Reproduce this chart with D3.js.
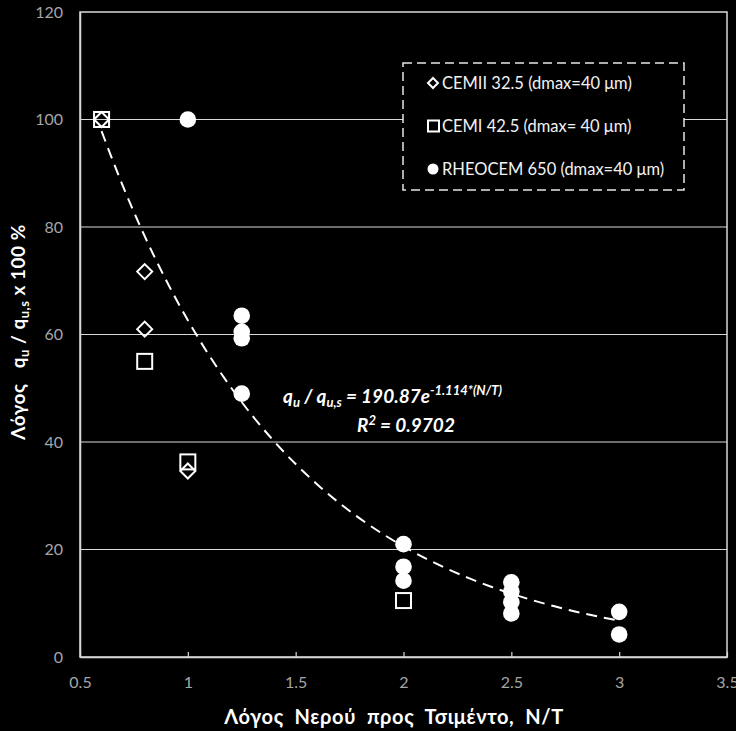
<!DOCTYPE html>
<html><head><meta charset="utf-8">
<script src="https://cdn.jsdelivr.net/npm/d3@7"></script>
<style>
html,body{margin:0;padding:0;background:#000;}
svg{display:block;}
text{font-family:Lato,"Open Sans",sans-serif;}
.pre{white-space:pre;}
</style></head>
<body>
<svg id="chart" width="736" height="731"></svg>
<script>
// ---- data ----
const xTicks = [0.5, 1, 1.5, 2, 2.5, 3, 3.5];
const xTickLabels = ["0.5", "1", "1.5", "2", "2.5", "3", "3.5"];
const yTicks = [0, 20, 40, 60, 80, 100, 120];
const seriesNames = ["CEMII 32.5 (dmax=40 μm)", "CEMI 42.5 (dmax= 40 μm)", "RHEOCEM 650 (dmax=40 μm)"];
const cemiiX = [0.6, 0.8, 0.8, 1.0];
const cemiiY = [100, 71.7, 61, 34.6];
const cemiX = [0.6, 0.8, 1.0, 2.0];
const cemiY = [100, 55, 36.3, 10.5];
const rheoX = [1.0, 1.25, 1.25, 1.25, 1.25, 2.0, 2.0, 2.0, 2.5, 2.5, 2.5, 2.5, 3.0, 3.0];
const rheoY = [100, 63.5, 60.5, 59.3, 49, 21, 16.8, 14.2, 13.9, 12.2, 10.2, 8.1, 8.4, 4.2];
const fitA = 190.87, fitB = -1.114;
const fitXs = [0.6, 0.7, 0.8, 0.9, 1.0, 1.1, 1.2, 1.3, 1.4, 1.5, 1.6, 1.7, 1.8, 1.9, 2.0, 2.1, 2.2, 2.3, 2.4, 2.5, 2.6, 2.7, 2.8, 2.9, 3.0];

// ---- layout ----
const svg = d3.select("#chart");
const L = 80, R = 727, T = 12, B = 657;
const x = d3.scaleLinear().domain([0.5, 3.5]).range([L, R]);
const y = d3.scaleLinear().domain([0, 120]).range([B, T]);
const axisCol = "#d9d9d9", tickCol = "#a6a6a6";

// gridlines
svg.append("g").selectAll("line").data(yTicks.filter(v => v > 0 && v < 120)).join("line")
  .attr("x1", L).attr("x2", R).attr("y1", d => y(d)).attr("y2", d => y(d))
  .attr("stroke", axisCol).attr("stroke-width", 1.2);

// plot border
svg.append("rect").attr("x", L).attr("y", T).attr("width", R - L).attr("height", B - T)
  .attr("fill", "none").attr("stroke", axisCol).attr("stroke-width", 1.5);

// x axis
const xAxis = d3.axisBottom(x).tickValues(xTicks).tickFormat((d, i) => xTickLabels[i]).tickSizeInner(-5).tickSizeOuter(0).tickPadding(20);
const gx = svg.append("g").attr("transform", `translate(0,${B})`).call(xAxis);
gx.select(".domain").attr("stroke", axisCol).attr("stroke-width", 1.5);
gx.selectAll(".tick line").attr("stroke", axisCol).attr("stroke-width", 1.2);
gx.selectAll(".tick text").attr("fill", tickCol).attr("font-size", 16).attr("font-family", "Lato, sans-serif");

// y axis
const yAxis = d3.axisLeft(y).tickValues(yTicks).tickSize(0).tickPadding(17);
const gy = svg.append("g").attr("transform", `translate(${L},0)`).call(yAxis);
gy.select(".domain").attr("stroke", axisCol).attr("stroke-width", 1.5);
gy.selectAll(".tick text").attr("fill", tickCol).attr("font-size", 16).attr("font-family", "Lato, sans-serif");

// fit line
const line = d3.line().x(d => x(d)).y(d => y(fitA * Math.exp(fitB * d))).curve(d3.curveMonotoneX);
svg.append("path").datum(fitXs).attr("d", line).attr("fill", "none")
  .attr("stroke", "#fff").attr("stroke-width", 2).attr("stroke-dasharray", "11,7");

// markers
const rheo = rheoX.map((v, i) => ({x: v, y: rheoY[i]}));
const cemi = cemiX.map((v, i) => ({x: v, y: cemiY[i]}));
const cemii = cemiiX.map((v, i) => ({x: v, y: cemiiY[i]}));

svg.append("g").selectAll("circle").data(rheo).join("circle")
  .attr("cx", d => x(d.x)).attr("cy", d => y(d.y)).attr("r", 8.3).attr("fill", "#fff");

const sq = 15;
svg.append("g").selectAll("rect").data(cemi).join("rect")
  .attr("x", d => x(d.x) - sq / 2).attr("y", d => y(d.y) - sq / 2).attr("width", sq).attr("height", sq)
  .attr("fill", "none").attr("stroke", "#fff").attr("stroke-width", 2);

const dm = 7.5;
svg.append("g").selectAll("path").data(cemii).join("path")
  .attr("d", d => { const cx = x(d.x), cy = y(d.y); return `M${cx},${cy - dm}L${cx + dm},${cy}L${cx},${cy + dm}L${cx - dm},${cy}Z`; })
  .attr("fill", "none").attr("stroke", "#fff").attr("stroke-width", 2);

// legend
const lg = svg.append("g");
lg.append("rect").attr("x", 403).attr("y", 63).attr("width", 281).attr("height", 127)
  .attr("fill", "#000").attr("stroke", "#e6e6e6").attr("stroke-width", 1.5).attr("stroke-dasharray", "9,5");
const legY = [83, 126, 169];
lg.append("path").attr("d", `M433,${legY[0] - 5}L438,${legY[0]}L433,${legY[0] + 5}L428,${legY[0]}Z`)
  .attr("fill", "none").attr("stroke", "#fff").attr("stroke-width", 2);
lg.append("rect").attr("x", 428).attr("y", legY[1] - 5.5).attr("width", 11).attr("height", 11)
  .attr("fill", "none").attr("stroke", "#fff").attr("stroke-width", 2);
lg.append("circle").attr("cx", 433).attr("cy", legY[2]).attr("r", 5.5).attr("fill", "#fff");
lg.selectAll("text.leg").data(seriesNames).join("text").attr("class", "leg")
  .attr("x", 442).attr("y", (d, i) => legY[i] + 6).attr("fill", "#f2f2f2").attr("font-size", 16.5)
  .text(d => d);

// equation
const eq = svg.append("text").attr("x", 283).attr("y", 403).attr("fill", "#fff")
  .attr("font-size", 19).attr("font-weight", "bold").attr("font-style", "italic");
eq.append("tspan").text("q");
eq.append("tspan").attr("font-size", 13).attr("dy", 4).text("u");
eq.append("tspan").attr("dy", -4).text(" / q");
eq.append("tspan").attr("font-size", 13).attr("dy", 4).text("u,s");
eq.append("tspan").attr("dy", -4).text(" = 190.87e");
eq.append("tspan").attr("font-size", 13).attr("dy", -8).text("-1.114*(N/T)");
const r2 = svg.append("text").attr("x", 357).attr("y", 432).attr("fill", "#fff")
  .attr("font-size", 19).attr("font-weight", "bold").attr("font-style", "italic");
r2.append("tspan").text("R");
r2.append("tspan").attr("font-size", 13).attr("dy", -7).text("2");
r2.append("tspan").attr("dy", 7).text(" = 0.9702");

// axis titles
svg.append("text").attr("class", "pre").attr("x", 394).attr("y", 724).attr("text-anchor", "middle").attr("fill", "#fff")
  .attr("font-size", 20).attr("font-weight", "bold").attr("letter-spacing", 0.6)
  .text("Λόγος  Νερού  προς  Τσιμέντο,  Ν/Τ");
const yt = svg.append("text").attr("class", "pre").attr("transform", "translate(25,332) rotate(-90)").attr("text-anchor", "middle")
  .attr("fill", "#fff").attr("font-size", 19).attr("font-weight", "bold").attr("letter-spacing", 0.5);
yt.append("tspan").text("Λόγος   q");
yt.append("tspan").attr("font-size", 13).attr("dy", 4).text("u");
yt.append("tspan").attr("dy", -4).text(" / q");
yt.append("tspan").attr("font-size", 13).attr("dy", 4).text("u,s");
yt.append("tspan").attr("dy", -4).text(" x 100 %");
</script>
</body></html>
